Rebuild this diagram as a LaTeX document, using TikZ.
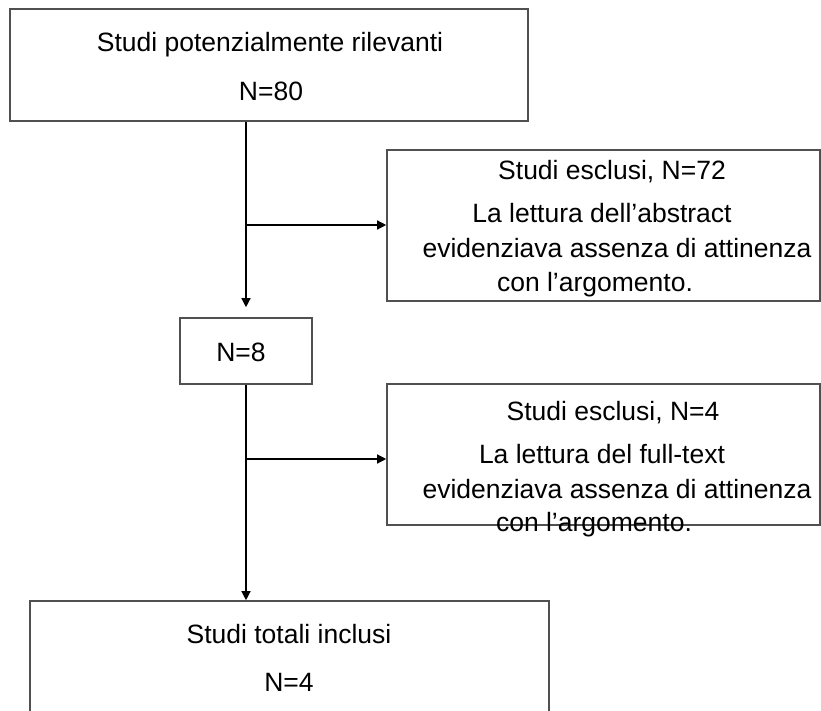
\documentclass[tikz,border=0pt]{standalone}
\usepackage{fontspec}
\setmainfont{Liberation Sans}
\usetikzlibrary{arrows.meta,calc}
\definecolor{boxgray}{RGB}{80,80,80}
\begin{document}
\begin{tikzpicture}[x=1pt,y=-1pt,
  box/.style={draw=boxgray,line width=1.6pt,rectangle,inner sep=0pt,minimum width=#1},
  txt/.style={anchor=base,inner sep=0pt,font=\fontsize{26.5}{30}\selectfont},
  conn/.style={draw=black,line width=1.3pt,-{Triangle[length=9pt,width=9pt]}},
  plain/.style={draw=black,line width=1.3pt}]
\useasboundingbox (0,0) rectangle (821,711);
% boxes
\node[box=518pt,minimum height=112pt] (b1) at (269,65) {};
\node[box=433pt,minimum height=151pt] (b2) at (603.5,225.5) {};
\node[box=132pt,minimum height=66pt] (n8) at (246,351) {};
\node[box=433pt,minimum height=141pt] (b3) at (603.5,454.5) {};
\node[box=519pt,minimum height=129pt] (b4) at (289.5,665.5) {};
% texts
\node[txt] (t11) at (270,52) {Studi potenzialmente rilevanti};
\node[txt] (t12) at (271,101) {N=80};
\node[txt] (t21) at (612,180) {Studi esclusi, N=72};
\node[txt] (t22) at (602,223) {La lettura dell’abstract};
\node[txt] (t23) at (617,258) {evidenziava assenza di attinenza};
\node[txt] (t24) at (595,291) {con l’argomento.};
\node[txt] (t8) at (241,361) {N=8};
\node[txt] (t31) at (613,420) {Studi esclusi, N=4};
\node[txt] (t32) at (602,463) {La lettura del full-text};
\node[txt] (t33) at (617,498) {evidenziava assenza di attinenza};
\node[txt] (t34) at (594,531) {con l’argomento.};
\node[txt] (t41) at (289,643) {Studi totali inclusi};
\node[txt] (t42) at (289,691) {N=4};
% connectors
\coordinate (j1) at (246,225);
\coordinate (j2) at (246,459);
\draw[conn] (b1.south -| n8.north) -- ([yshift=10pt]n8.north);
\draw[conn] (j1) -- (j1 -| b2.west);
\draw[conn] (n8.south) -- (b4.north -| n8.south);
\draw[conn] (j2) -- (j2 -| b3.west);
\end{tikzpicture}
\end{document}
